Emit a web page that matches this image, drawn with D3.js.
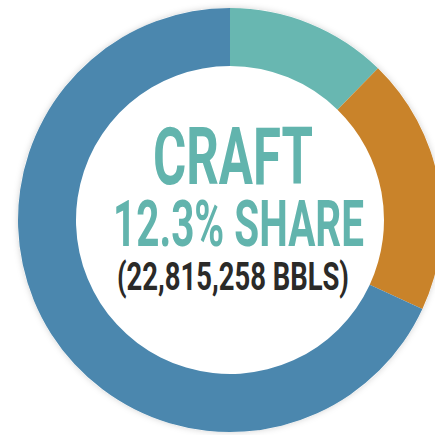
<!DOCTYPE html>
<html>
<head>
<meta charset="utf-8">
<script src="https://cdn.jsdelivr.net/npm/d3@7"></script>
<style>
html,body{margin:0;padding:0;background:#fff;}
svg{display:block;}
</style>
</head>
<body>
<svg id="chart" width="435" height="435"></svg>
<script>
const categories = ["Craft", "Imports", "Other domestic"];
const shares = [12.3, 19.6, 68.1];
const colors = ["#68b7b1", "#c9832a", "#4b87ae"];
const labelLines = ["CRAFT", "12.3% SHARE", "(22,815,258 BBLS)"];

const svg = d3.select("#chart");
const cx = 230, cy = 220, outerR = 212, innerR = 154;

const defs = svg.append("defs");
const f = defs.append("filter").attr("id","sh").attr("x","-20%").attr("y","-20%").attr("width","140%").attr("height","140%");
f.append("feDropShadow").attr("dx",0).attr("dy",0).attr("stdDeviation",3).attr("flood-color","#000").attr("flood-opacity",0.18);

const pie = d3.pie().sort(null).value(d => d)(shares);
const arc = d3.arc().innerRadius(innerR).outerRadius(outerR);

const g = svg.append("g").attr("transform", `translate(${cx},${cy})`);
g.append("circle").attr("r", outerR).attr("fill","#fff").attr("filter","url(#sh)");
g.selectAll("path").data(pie).join("path")
  .attr("d", arc)
  .attr("fill", (d,i) => colors[i]);

const font = "Roboto, 'DejaVu Sans', sans-serif";
const t = [
  {text: labelLines[0], x: 233, y: 184, size: 79, len: 160, fill: "#62b4ad", weight: 700},
  {text: labelLines[1], x: 238.5, y: 246, size: 64, len: 251, fill: "#62b4ad", weight: 700},
  {text: labelLines[2], x: 233, y: 290, size: 38, len: 232, fill: "#2b2a28", weight: 700}
];
svg.selectAll("text.lbl").data(t).join("text")
  .attr("class","lbl")
  .attr("x", d => d.x).attr("y", d => d.y)
  .attr("text-anchor","middle")
  .attr("font-family", font)
  .attr("font-weight", d => d.weight)
  .attr("font-size", d => d.size)
  .attr("textLength", d => d.len)
  .attr("lengthAdjust","spacingAndGlyphs")
  .attr("fill", d => d.fill)
  .text(d => d.text);
</script>
</body>
</html>
